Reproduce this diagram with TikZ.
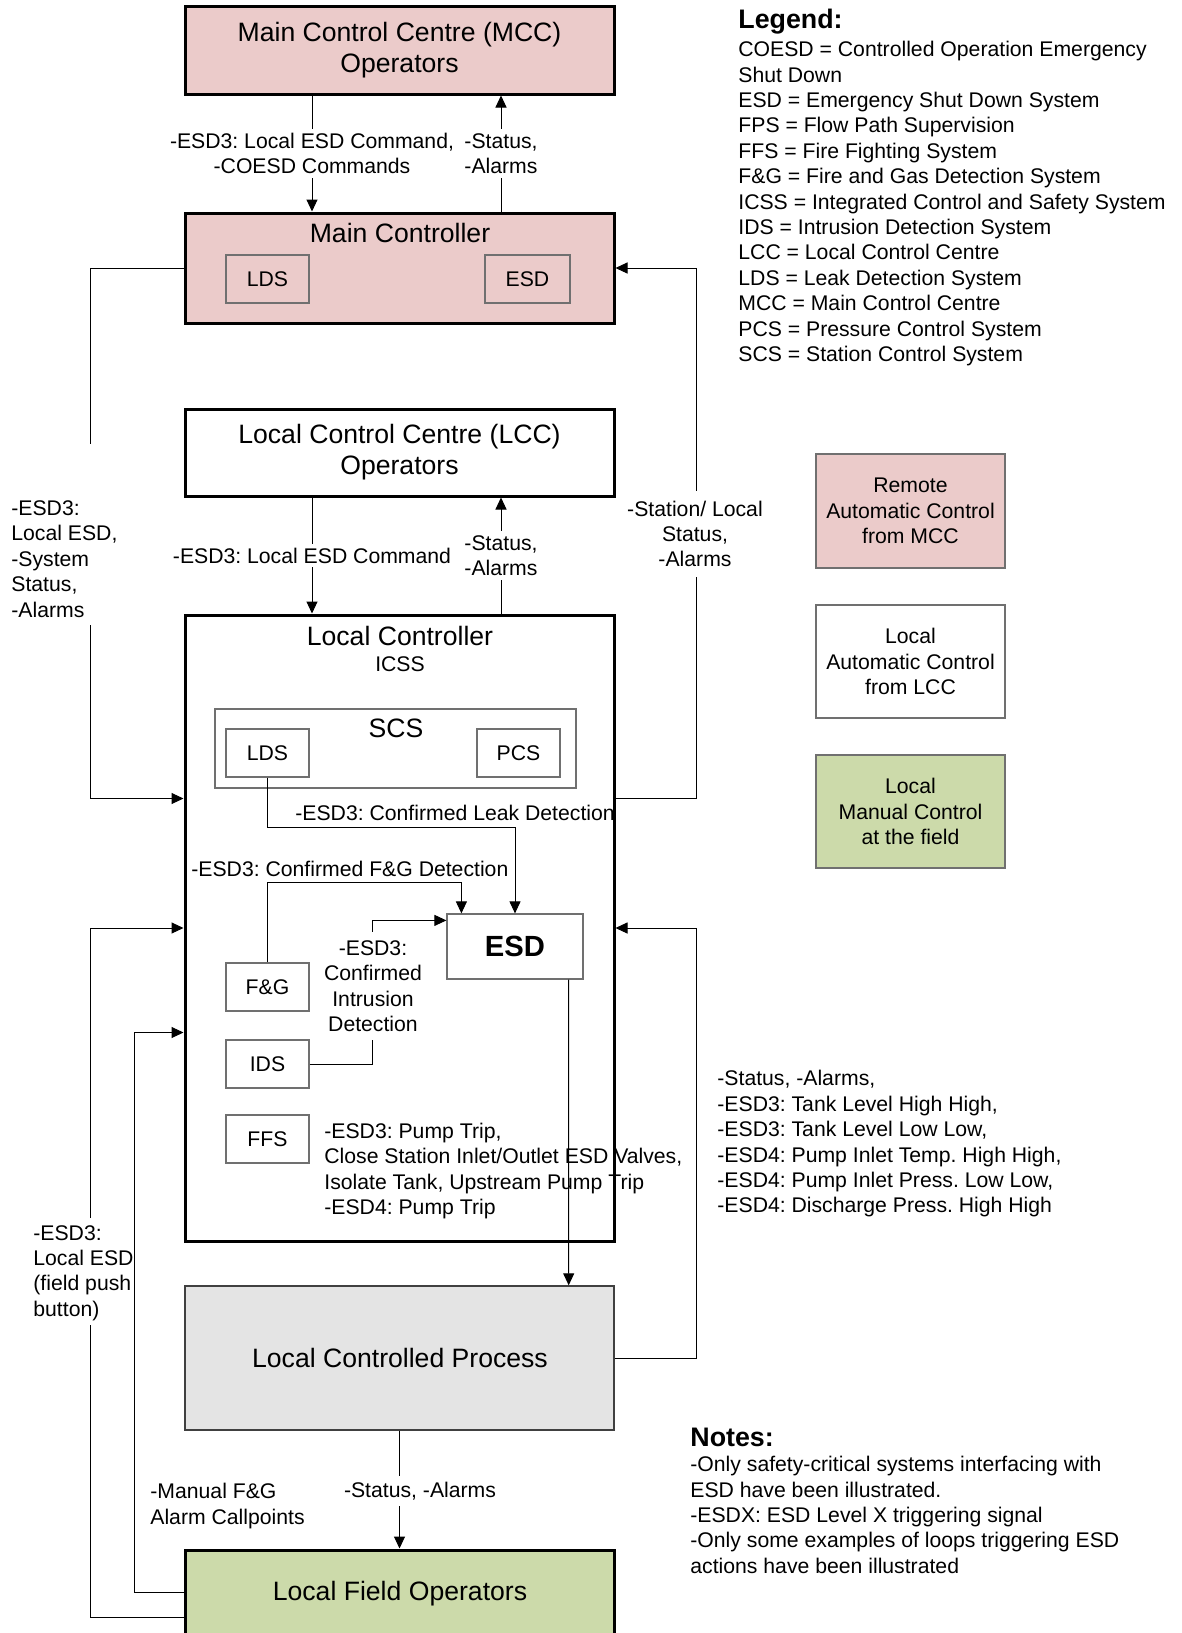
\documentclass[tikz,border=0pt]{standalone}
\usepackage{fontspec}
\setmainfont{Liberation Sans}
\usetikzlibrary{arrows.meta,calc,fit}

\definecolor{remotepink}{HTML}{EBCBCA}
\definecolor{fieldgreen}{HTML}{CCDAAA}
\definecolor{procgray}{HTML}{E4E4E4}
\definecolor{framegray}{HTML}{707070}

\frenchspacing
\begin{document}
\begin{tikzpicture}[x=0.5pt,y=-0.5pt,
  txt/.style={font=\fontsize{10.6}{12.7}\selectfont, inner sep=0pt},
  big/.style={font=\fontsize{13.3}{15.6}\selectfont, inner sep=0pt},
  head/.style={font=\fontsize{13.4}{15.6}\selectfont\bfseries, inner sep=0pt},
  mainbox/.style={draw, line width=1.5pt, inner sep=0pt},
  subbox/.style={draw=framegray, line width=0.6pt, inner sep=0pt},
  legbox/.style={draw=framegray, line width=0.6pt, inner sep=0pt},
  wire/.style={line width=0.5pt},
  arr/.style={wire, -{Triangle[length=6pt,width=5.5pt]}},
  lbl/.style={txt, fill=white, inner xsep=1pt, inner ysep=2pt}
]
\useasboundingbox (0,0) rectangle (1182,1633);
\fill[white] (0,0) rectangle (1182,1633);
\clip (0,0) rectangle (1182,1633);

% ---------- main blocks ----------
\node[mainbox, fill=remotepink, fit={(185,6) (614,94)}] (mcc) {};
\node[big, align=center] (mcctext) at (mcc) {Main Control Centre (MCC)\\Operators};
\node[mainbox, fill=remotepink, fit={(185,213) (614,323)}] (mc) {};
\node[big] (mctitle) at (400,233) {Main Controller};
\node[subbox, fill=remotepink, fit={(226,255) (309,303)}] (mclds) {};
\node[txt] at (mclds) {LDS};
\node[subbox, fill=remotepink, fit={(485,255) (570,303)}] (mcesd) {};
\node[txt] at (mcesd) {ESD};

\node[mainbox, fill=white, fit={(185,409) (614,496)}] (lcc) {};
\node[big, align=center] (lcctext) at (lcc) {Local Control Centre (LCC)\\Operators};

\node[mainbox, fill=white, fit={(185,615) (614,1241)}] (lc) {};
\node[big] (lctitle) at (400,636) {Local Controller};
\node[txt] (icss) at (400,664) {ICSS};

\node[subbox, fit={(215,709) (576,788)}] (scs) {};
\node[big] (scstitle) at (396,728) {SCS};
\node[subbox, fit={(226,729) (309,777)}] (lds) {};
\node[txt] at (lds) {LDS};
\node[subbox, fit={(477,729) (560,777)}] (pcs) {};
\node[txt] at (pcs) {PCS};

\node[subbox, fill=white, fit={(447,914) (583,979)}] (esd) {};
\node[font=\fontsize{14.6}{17}\selectfont\bfseries, inner sep=0pt] at (esd) {ESD};
\node[subbox, fit={(226,963) (309,1011)}] (fg) {};
\node[txt] at (fg) {F\&G};
\node[subbox, fit={(226,1040) (309,1088)}] (ids) {};
\node[txt] at (ids) {IDS};
\node[subbox, fit={(226,1115) (309,1163)}] (ffs) {};
\node[txt] at (ffs) {FFS};

\node[draw=black!75, line width=0.7pt, fill=procgray, inner sep=0pt, fit={(185,1286) (614,1430)}] (proc) {};
\node[big] (proctitle) at (400,1358) {Local Controlled Process};

\node[mainbox, fill=fieldgreen, fit={(185,1550) (614,1680)}] (field) {};
\node[big] (fieldtitle) at (400,1594) {Local Field Operators};

% ---------- MCC <-> Main Controller ----------
\coordinate (xcmd) at (312,0);
\coordinate (xsts) at (501,0);
\draw[arr] (mcc.south -| xcmd) -- node[lbl, align=center] (lblcmd1)
  {-ESD3: Local ESD Command,\\-COESD Commands} (mc.north -| xcmd);
\draw[arr] (mc.north -| xsts) -- node[lbl, align=left] (lblsts1)
  {-Status,\\-Alarms} (mcc.south -| xsts);

% ---------- LCC <-> Local Controller ----------
\draw[arr] (lcc.south -| xcmd) -- node[lbl] (lblcmd2)
  {-ESD3: Local ESD Command} (lc.north -| xcmd);
\draw[arr] (lc.north -| xsts) -- node[lbl, align=left] (lblsts2)
  {-Status,\\-Alarms} (lcc.south -| xsts);

% ---------- Main Controller -> Local Controller (left loop) ----------
\coordinate (lcleftin) at ($(lc.north west)+(0,185)$);
\coordinate (lcrightout) at ($(lc.north east)+(0,185)$);
\coordinate (mlgaptop) at (90,444);
\coordinate (mlgapbot) at (90,625);
\draw[wire] (mc.west) -| (mlgaptop);
\draw[arr] (mlgapbot) |- (lcleftin);
\node[txt, align=left, anchor=west] (lblleft) at (11,559)
  {-ESD3:\\Local ESD,\\-System\\Status,\\-Alarms};

% ---------- Local Controller -> Main Controller (right loop) ----------
\draw[arr] (lcrightout) -| ($(mc.east)+(81,0)$) -- (mc.east);
\node[lbl, align=center, inner ysep=5pt] (lblright) at (695,534)
  {-Station/ Local\\Status,\\-Alarms};

% ---------- signals into the ESD ----------
\draw[arr] (lds.south) -- ++(0,50) -| (esd.north);
\node[txt, anchor=west] (lblleak) at (295,813) {-ESD3: Confirmed Leak Detection};

\draw[arr] (fg.north) -- ++(0,-80) -| ($(esd.north west)+(15,0)$);
\node[txt, anchor=west] (lblfg) at (191,869) {-ESD3: Confirmed F\&G Detection};

\draw[arr] (ids.east) -| ($(esd.north west)+(-74,7)$) -- ($(esd.north west)+(0,7)$);
\node[lbl, align=center, inner ysep=4pt] (lblids) at (373,986)
  {-ESD3:\\Confirmed\\Intrusion\\Detection};

% ---------- ESD actions on the process ----------
\node[txt, align=left, anchor=west] (lblffs) at (324,1171)
  {-ESD3: Pump Trip,\\Close Station Inlet/Outlet ESD Valves,\\Isolate Tank, Upstream Pump Trip\\-ESD4: Pump Trip};
\draw[arr] ($(esd.south east)+(-15,0)$) -- ($(proc.north east)+(-46,0)$);

% ---------- process feedback ----------
\draw[arr] (proc.east) -- ++(82,0) |- (lc.east);
\node[txt, align=left, anchor=west] (lblproc) at (717,1144)
  {-Status, -Alarms,\\-ESD3: Tank Level High High,\\-ESD3: Tank Level Low Low,\\-ESD4: Pump Inlet Temp. High High,\\-ESD4: Pump Inlet Press. Low Low,\\-ESD4: Discharge Press. High High};

\draw[arr] (proc.south) -- (proc.south |- field.north);
\node[lbl, inner ysep=3pt] (lblfield) at (420,1491) {-Status, -Alarms};

% ---------- field operators -> Local Controller ----------
\coordinate (fogaptop) at (90,1218);
\coordinate (fogapbot) at (90,1325);
\draw[wire] ($(field.north west)+(0,69)$) -| (fogapbot);
\draw[arr] (fogaptop) |- (lc.west);
\node[txt, align=left, anchor=west] (lblpush) at (33,1273)
  {-ESD3:\\Local ESD\\(field push\\button)};
\draw[arr] ($(field.north west)+(0,44)$) -| ($(lc.north west)+(-49,419)$) -- ($(lc.north west)+(0,419)$);
\node[txt, align=left, anchor=west] (lblmanual) at (150,1506)
  {-Manual F\&G\\Alarm Callpoints};

% ---------- legend ----------
\node[head, anchor=west] (leghead) at (738,22) {Legend:};
\node[txt, align=left, anchor=north west] (legtext) at (738,41)
  {COESD = Controlled Operation Emergency\\Shut Down\\ESD = Emergency Shut Down System\\FPS = Flow Path Supervision\\FFS = Fire Fighting System\\F\&G = Fire and Gas Detection System\\ICSS = Integrated Control and Safety System\\IDS = Intrusion Detection System\\LCC = Local Control Centre\\LDS = Leak Detection System\\MCC = Main Control Centre\\PCS = Pressure Control System\\SCS = Station Control System};

\node[legbox, fill=remotepink, fit={(816,454) (1005,568)}] (legremote) {};
\node[txt, align=center] at (legremote) {Remote\\Automatic Control\\from MCC};
\node[legbox, fill=white, fit={(816,605) (1005,718)}] (leglocal) {};
\node[txt, align=center] at (leglocal) {Local\\Automatic Control\\from LCC};
\node[legbox, fill=fieldgreen, fit={(816,755) (1005,868)}] (legmanual) {};
\node[txt, align=center] at (legmanual) {Local\\Manual Control\\at the field};

% ---------- notes ----------
\node[head, anchor=west] (noteshead) at (690,1437) {Notes:};
\node[txt, align=left, anchor=north west] (notestext) at (690,1456)
  {-Only safety-critical systems interfacing with\\ESD have been illustrated.\\-ESDX: ESD Level X triggering signal\\-Only some examples of loops triggering ESD\\actions have been illustrated};
\end{tikzpicture}
\end{document}
